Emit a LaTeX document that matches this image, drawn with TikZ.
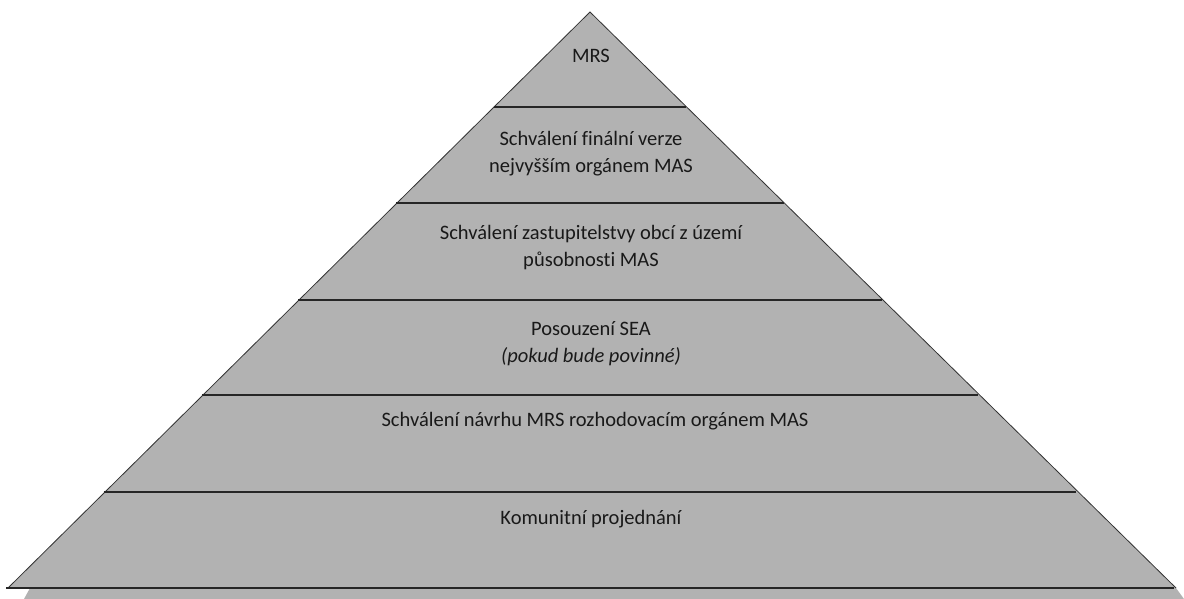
\documentclass[tikz,border=0pt]{standalone}
\usepackage{fontspec}
\setmainfont{Carlito}[Ligatures=CommonOff]
\begin{document}
\begin{tikzpicture}[x=1pt,y=-1pt,
  layerline/.style={line width=1.3pt,draw=black!85},
  edge/.style={line width=0.8pt,draw=black!80},
  lbl/.style={font=\fontsize{20.5}{27}\selectfont,align=center,text=black!90}]
\useasboundingbox (0,0) rectangle (1184,599);
\coordinate (apex) at (590,12);
\coordinate (bl) at (8,588);
\coordinate (br) at (1176,588);
% strip below base
\fill[black!30] (30,588) -- (1176,588) -- (1184,599) -- (24,599) -- cycle;
% pyramid body
\fill[black!30] (apex) -- (br) -- (bl) -- cycle;
\draw[edge] (bl) -- (apex) -- (br);
% layer lines
\foreach \yy in {107,203,300,395,492,588}{
  \pgfmathsetmacro{\dx}{(\yy-12)*1.0135}
  \draw[layerline] ({590-\dx},\yy) -- ({590+\dx},\yy);
}
\node[lbl] (t1) at (591,56) {MRS};
\node[lbl] (t2) at (591,154) {Schválení finální verze\\nejvyšším orgánem MAS};
\node[lbl] (t3) at (591,248) {Schválení zastupitelstvy obcí z území\\působnosti MAS};
\node[lbl] (t4) at (591,344) {Posouzení SEA\\\textit{(pokud bude povinné)}};
\node[lbl] (t5) at (595,421) {Schválení návrhu MRS rozhodovacím orgánem MAS};
\node[lbl] (t6) at (591,519) {Komunitní projednání};
\end{tikzpicture}
\end{document}
